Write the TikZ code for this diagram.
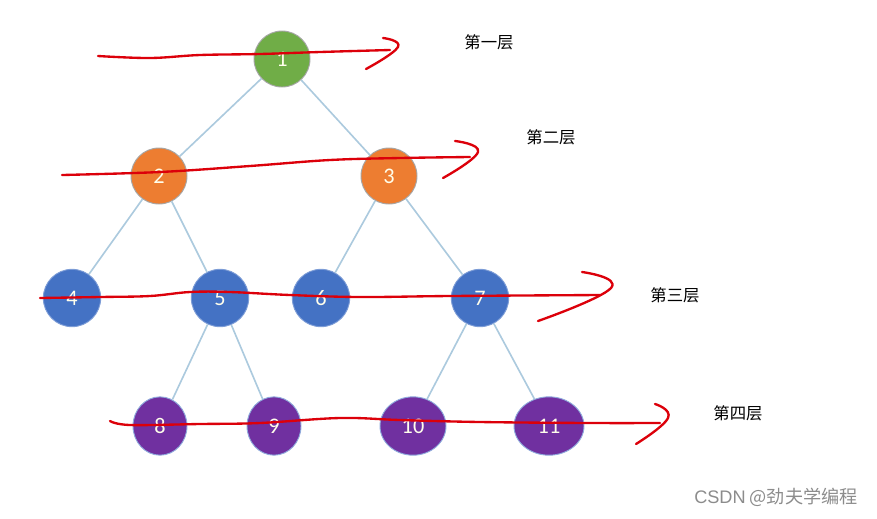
\documentclass[tikz,border=0pt]{standalone}
\usepackage{fontspec}
\setmainfont{Carlito}
\newfontfamily\cjk{Noto Sans CJK SC}
\newfontfamily\marksans{Liberation Sans}
\usetikzlibrary{shapes.geometric}
\definecolor{levelgreen}{RGB}{112,173,71}
\definecolor{levelorange}{RGB}{237,125,49}
\definecolor{levelblue}{RGB}{68,114,196}
\definecolor{levelpurple}{RGB}{112,48,160}
\definecolor{edgeblue}{RGB}{172,202,222}
\definecolor{penred}{RGB}{220,0,10}
\tikzset{
  treenode/.style={ellipse, inner sep=0pt, draw=black!35, line width=0.8pt,
    text=white!92!yellow, font=\fontsize{19}{22}\selectfont},
  lvlone/.style={treenode, fill=levelgreen, minimum width=1.68cm, minimum height=1.68cm},
  lvltwo/.style={treenode, fill=levelorange, minimum width=1.68cm, minimum height=1.68cm},
  lvlthree/.style={treenode, fill=levelblue, draw=levelblue!70!white, minimum width=1.72cm, minimum height=1.72cm},
  lvlfour/.style={treenode, fill=levelpurple, draw=levelblue!60!white, minimum height=1.75cm},
  edge/.style={draw=edgeblue, line width=1.4pt},
  scribble/.style={draw=penred, line width=2pt, line cap=round, line join=round},
  layer/.style={font=\cjk\fontsize{14}{16}\selectfont}
}

\begin{document}
\begin{tikzpicture}[x=0.03cm, y=-0.03cm]
\useasboundingbox (0,0) rectangle (877,518);

% Level 1
\node[lvlone] (n1) at (282,59) {1};

% Level 2
\node[lvltwo] (n2) at (159,176) {2};
\node[lvltwo] (n3) at (389,176) {3};

% Level 3
\node[lvlthree] (n4) at (72,298) {4};
\node[lvlthree] (n5) at (220,298) {5};
\node[lvlthree] (n6) at (321,298) {6};
\node[lvlthree] (n7) at (480,298) {7};

% Level 4
\node[lvlfour, minimum width=1.62cm] (n8) at (160,426) {8};
\node[lvlfour, minimum width=1.62cm] (n9) at (274,426) {9};
\node[lvlfour, minimum width=1.98cm] (n10) at (413,426) {10};
\node[lvlfour, minimum width=2.1cm] (n11) at (549,426) {11};

% Edges
\draw[edge] (n1) -- (n2);
\draw[edge] (n1) -- (n3);
\draw[edge] (n2) -- (n4);
\draw[edge] (n2) -- (n5);
\draw[edge] (n3) -- (n6);
\draw[edge] (n3) -- (n7);
\draw[edge] (n5) -- (n8);
\draw[edge] (n5) -- (n9);
\draw[edge] (n7) -- (n10);
\draw[edge] (n7) -- (n11);

% Red pen strokes
\draw[scribble] plot[smooth, tension=0.6] coordinates {(98,56) (150,58) (200,55) (260,54) (320,52) (390,50)};
\draw[scribble] plot[smooth, tension=0.8] coordinates {(383,38) (398,47) (366,69)};
\draw[scribble] plot[smooth, tension=0.6] coordinates {(62,175) (160,172) (250,166) (330,160) (400,158) (470,157)};
\draw[scribble] plot[smooth, tension=0.8] coordinates {(455,141) (478,152) (443,178)};
\draw[scribble] plot[smooth, tension=0.6] coordinates {(40,298) (100,297) (150,296) (190,292) (230,292) (290,295) (360,297) (450,296) (600,295)};
\draw[scribble] plot[smooth, tension=0.8] coordinates {(582,272) (611,288) (538,321)};
\draw[scribble] plot[smooth, tension=0.6] coordinates {(110,421) (130,425) (200,424) (260,423) (340,418) (400,420) (480,422) (590,423) (660,423)};
\draw[scribble] plot[smooth, tension=0.8] coordinates {(655,404) (668,418) (636,444)};

% Layer labels
\node[layer] (l1) at (489,42) {第一层};
\node[layer] (l2) at (551,137) {第二层};
\node[layer] (l3) at (675,295) {第三层};
\node[layer] (l4) at (738,413) {第四层};

% Watermark
\node[font=\cjk\fontsize{15.5}{18}\selectfont, text=black!45] (mark) at (776,497) {{\marksans CSDN} @劲夫学编程};

\end{tikzpicture}
\end{document}
